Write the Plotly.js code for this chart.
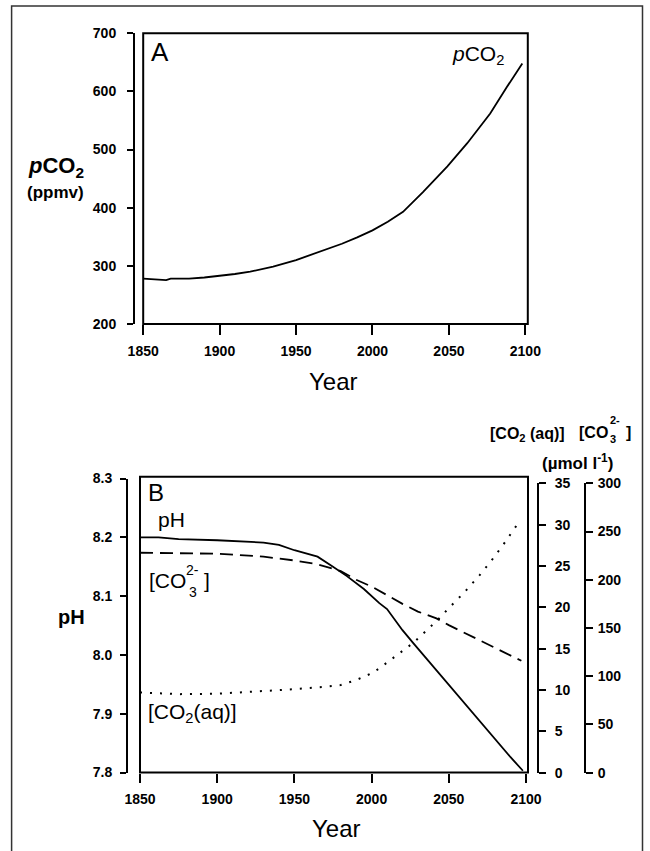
<!DOCTYPE html>
<html>
<head>
<meta charset="utf-8">
<script src="https://cdn.plot.ly/plotly-3.0.1.min.js"></script>
<style>html,body{margin:0;padding:0;background:#fff;}#chart{width:650px;height:851px;}</style>
</head>
<body>
<div id="chart"></div>
<script>
// ---- Data ----
const pco2Years = [1850,1855,1860,1865,1868,1880,1890,1900,1910,1920,1935,1950,1960,1970,1980,1990,2000,2010,2020,2033,2049,2062,2077,2088,2098];
const pco2Vals  = [278,277,275.5,275.5,278,278,280,282.5,286,290,298.5,310,319,328.5,338,349,361,376,393,427,471,511,562,608,648];

const phYears = [1850,1862,1875,1900,1930,1940,1950,1965,1975,1984,1995,2005,2010,2020,2027,2040,2050,2060,2070,2080,2090,2098];
const phVals  = [8.200,8.200,8.197,8.195,8.191,8.187,8.178,8.167,8.150,8.134,8.112,8.088,8.078,8.042,8.020,7.980,7.949,7.918,7.887,7.857,7.826,7.803];

const co3Years = [1850,1900,1930,1950,1965,1980,1990,2000,2010,2020,2030,2042,2050,2060,2070,2080,2097];
const co3Vals  = [228,227,224,220,216,209,200,193,184,175,167,160,153,145,137,129,116];

const co2Years = [1850,1875,1900,1925,1950,1970,1980,1990,2001,2007,2015,2020,2027,2035,2044,2050,2060,2070,2077,2085,2095];
const co2Vals  = [9.7,9.5,9.55,9.8,10.1,10.4,10.6,11.2,12.1,12.9,14.0,14.7,15.7,17.1,18.7,19.9,21.8,23.9,25.5,27.5,30.2];

const yearTicks = [1850,1900,1950,2000,2050,2100];
const pco2Ticks = [200,300,400,500,600,700];
const phTicks = [7.8,7.9,8.0,8.1,8.2,8.3];
const co2Ticks = [0,5,10,15,20,25,30,35];
const co3Ticks = [0,50,100,150,200,250,300];

// ---- Helpers ----
const W = 650, H = 851;
const px = x => x / W;
const py = y => 1 - y / H;
const FONT = 'Liberation Sans, Arial, Helvetica, sans-serif';
const tickFont = {family: FONT, size: 14, color: '#000', weight: 'bold'};

const traces = [
  {x: pco2Years, y: pco2Vals, xaxis: 'x', yaxis: 'y', mode: 'lines', line: {color: '#000', width: 1.8}, hoverinfo: 'skip'},
  {x: phYears, y: phVals, xaxis: 'x2', yaxis: 'y2', mode: 'lines', line: {color: '#000', width: 1.8}, hoverinfo: 'skip'},
  {x: co3Years, y: co3Vals, xaxis: 'x2', yaxis: 'y4', mode: 'lines', line: {color: '#000', width: 1.8, dash: '13px,7px'}, hoverinfo: 'skip'},
  {x: co2Years, y: co2Vals, xaxis: 'x2', yaxis: 'y3', mode: 'lines', line: {color: '#000', width: 2, dash: '2px,8px'}, hoverinfo: 'skip'}
];

const axCommon = {showgrid: false, zeroline: false, ticks: 'outside', tickwidth: 2, tickcolor: '#000',
  linecolor: '#000', linewidth: 2, tickfont: tickFont, fixedrange: true};

const layout = {
  width: W, height: H,
  margin: {l: 0, r: 0, t: 0, b: 0},
  paper_bgcolor: '#fff', plot_bgcolor: 'rgba(0,0,0,0)',
  showlegend: false,
  xaxis: Object.assign({}, axCommon, {domain: [px(143.2), px(527.8)], range: [1850, 2101.6], anchor: 'y',
    tickvals: yearTicks, ticklen: 10, showline: false, ticklabelstandoff: 4}),
  yaxis: Object.assign({}, axCommon, {domain: [py(324), py(33.3)], range: [200, 700], anchor: 'free',
    position: px(134), showline: true, tickvals: pco2Ticks, ticklen: 6, ticklabelstandoff: 8}),
  xaxis2: Object.assign({}, axCommon, {domain: [px(140), px(528)], range: [1850, 2101.3], anchor: 'y2',
    tickvals: yearTicks, ticklen: 9, showline: false, ticklabelstandoff: 5}),
  yaxis2: Object.assign({}, axCommon, {domain: [py(772.5), py(478.5)], range: [7.8, 8.3], anchor: 'free',
    position: px(127), showline: true, tickvals: phTicks, tickformat: '.1f', ticklen: 6, ticklabelstandoff: 5}),
  yaxis3: Object.assign({}, axCommon, {domain: [py(772.7), py(483.3)], range: [0, 35], anchor: 'free',
    position: px(538), side: 'right', showline: true, tickvals: co2Ticks, ticklen: 7, ticklabelstandoff: 6}),
  yaxis4: Object.assign({}, axCommon, {domain: [py(772.7), py(483.3)], range: [0, 300], anchor: 'free',
    position: px(585), side: 'right', showline: true, tickvals: co3Ticks, ticklen: 7, ticklabelstandoff: 2}),
  shapes: [
    {type: 'rect', xref: 'paper', yref: 'paper', x0: px(11.6), x1: px(642.5), y0: py(860), y1: py(6),
      line: {color: '#333', width: 1.5}},
    {type: 'rect', xref: 'paper', yref: 'paper', x0: px(143.2), x1: px(527.8), y0: py(324), y1: py(33.3),
      line: {color: '#000', width: 2}},
    {type: 'rect', xref: 'paper', yref: 'paper', x0: px(140), x1: px(528), y0: py(772.5), y1: py(476.7),
      line: {color: '#000', width: 2}}
  ],
  annotations: []
};

function ann(text, x, y, size, opts) {
  layout.annotations.push(Object.assign({
    text: text, xref: 'paper', yref: 'paper', x: px(x), y: py(y), showarrow: false,
    xanchor: 'center', yanchor: 'middle', font: {family: FONT, size: size, color: '#000'}
  }, opts || {}));
}
const bold = s => ({family: FONT, size: s, color: '#000', weight: 'bold'});

// Panel A
ann('A', 149, 52, 26, {xanchor: 'left'});
ann('<i>p</i>CO<sub>2</sub>', 450, 55, 21, {xanchor: 'left'});
ann('<i>p</i>CO<sub>2</sub>', 56, 167, 22, {font: bold(22)});
ann('(ppmv)', 55.5, 192.5, 17, {font: bold(17)});
ann('Year', 333, 381, 24);

// Panel B
ann('B', 146, 493, 24, {xanchor: 'left'});
ann('pH', 156, 519, 21, {xanchor: 'left'});
ann('[CO', 147, 580, 21, {xanchor: 'left'});
ann('2-', 183.5, 570, 14, {xanchor: 'left'});
ann('3', 187, 592, 14, {xanchor: 'left'});
ann(']', 202, 580, 21, {xanchor: 'left'});
ann('[CO<sub>2</sub>(aq)]', 146, 713, 21, {xanchor: 'left'});
ann('pH', 71.5, 617, 20, {font: bold(20)});
ann('Year', 336, 828.5, 24);

// Right-side headers
ann('[CO<sub>2</sub> (aq)]', 488, 434, 16, {xanchor: 'left', font: bold(16)});
ann('[CO', 577, 432, 16, {xanchor: 'left', font: bold(16)});
ann('2-', 607.5, 420, 11, {xanchor: 'left', font: bold(11)});
ann('3', 607.5, 439, 11, {xanchor: 'left', font: bold(11)});
ann(']', 624, 432, 16, {xanchor: 'left', font: bold(16)});
ann('(µmol l<sup>-1</sup>)', 577.5, 462, 17, {font: bold(17)});

Plotly.newPlot('chart', traces, layout, {staticPlot: true, displayModeBar: false});
</script>
</body>
</html>
